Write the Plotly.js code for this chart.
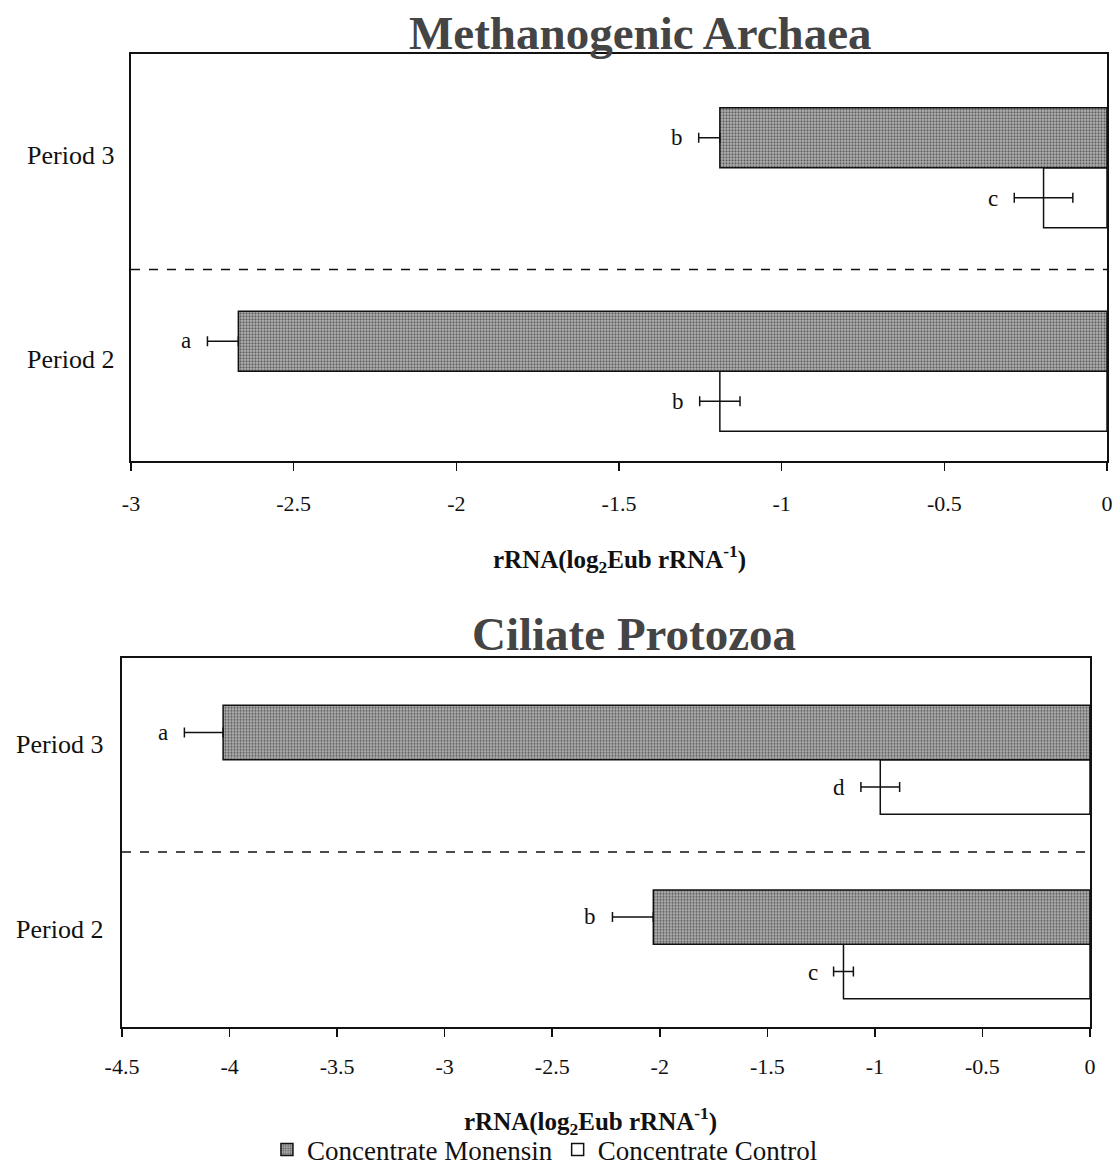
<!DOCTYPE html>
<html>
<head>
<meta charset="utf-8">
<script src="https://cdn.plot.ly/plotly-3.0.1.min.js"></script>
<style>html,body{margin:0;padding:0;background:#fff;}#chart{width:1119px;height:1175px;}</style>
</head>
<body>
<div id="chart"></div>
<script>
// ---- Data ----
const categories = ['Period 2', 'Period 3'];
const seriesNames = ['Concentrate Monensin', 'Concentrate Control'];

const archaeaMonensin = [-2.67, -1.19];
const archaeaMonensinErr = [0.095, 0.065];
const archaeaControl = [-1.19, -0.195];
const archaeaControlErr = [0.062, 0.09];
const archaeaMonensinLetters = ['a', 'b'];
const archaeaControlLetters = ['b', 'c'];

const ciliateMonensin = [-2.03, -4.03];
const ciliateMonensinErr = [0.19, 0.18];
const ciliateControl = [-1.146, -0.975];
const ciliateControlErr = [0.046, 0.09];
const ciliateMonensinLetters = ['b', 'a'];
const ciliateControlLetters = ['c', 'd'];

const topTickVals = [-3, -2.5, -2, -1.5, -1, -0.5, 0];
const bottomTickVals = [-4.5, -4, -3.5, -3, -2.5, -2, -1.5, -1, -0.5, 0];
const axisTitleText = 'rRNA(log<sub>2</sub>Eub rRNA<sup>-1</sup>)';

// ---- Styling ----
const serif = 'Liberation Serif';
const monensinMarker = {
  color: '#9a9a9a',
  pattern: {shape: '.', fgcolor: '#555', bgcolor: '#b0b0b0', size: 3, solidity: 0.4},
  line: {color: '#111', width: 1.5}
};
const controlMarker = {color: '#ffffff', line: {color: '#111', width: 1.5}};

function monTrace(x, err, xa, ya, show) {
  return {
    type: 'bar', orientation: 'h', name: seriesNames[0], y: categories, x: x,
    xaxis: xa, yaxis: ya, marker: monensinMarker, showlegend: show, legendrank: 1,
    error_x: {type: 'data', symmetric: false, array: err.map(() => 0), arrayminus: err,
              color: '#111', thickness: 1.5, width: 5}
  };
}
function ctlTrace(x, err, xa, ya, show) {
  return {
    type: 'bar', orientation: 'h', name: seriesNames[1], y: categories, x: x,
    xaxis: xa, yaxis: ya, marker: controlMarker, showlegend: show, legendrank: 2,
    error_x: {type: 'data', symmetric: true, array: err, color: '#111', thickness: 1.5, width: 5}
  };
}

const traces = [
  ctlTrace(archaeaControl, archaeaControlErr, 'x', 'y', true),
  monTrace(archaeaMonensin, archaeaMonensinErr, 'x', 'y', true),
  ctlTrace(ciliateControl, ciliateControlErr, 'x2', 'y2', false),
  monTrace(ciliateMonensin, ciliateMonensinErr, 'x2', 'y2', false)
];

// letter annotations, placed left of the error bar end
const barOffset = 0.15;
const annotations = [];
function addLetters(vals, errs, letters, xa, ya, off) {
  vals.forEach((v, i) => {
    annotations.push({
      xref: xa, yref: ya, x: v - errs[i], y: i + off, text: letters[i],
      showarrow: false, xanchor: 'right', xshift: -14,
      font: {family: serif, size: 23, color: '#111'}
    });
  });
}
addLetters(archaeaMonensin, archaeaMonensinErr, archaeaMonensinLetters, 'x', 'y', barOffset);
addLetters(archaeaControl, archaeaControlErr, archaeaControlLetters, 'x', 'y', -barOffset);
addLetters(ciliateMonensin, ciliateMonensinErr, ciliateMonensinLetters, 'x2', 'y2', barOffset);
addLetters(ciliateControl, ciliateControlErr, ciliateControlLetters, 'x2', 'y2', -barOffset);

// category labels (period names), slightly above the category centre as in the original
const catFont = {family: serif, size: 26, color: '#111'};
function addCatLabels(xa, ya, xshift, yshift) {
  categories.forEach((c, i) => {
    annotations.push({
      xref: xa + ' domain', yref: ya, x: 0, y: i, text: c, showarrow: false,
      xanchor: 'right', yanchor: 'middle', xshift: xshift, yshift: yshift, font: catFont
    });
  });
}
addCatLabels('x', 'y', -15, 12);
addCatLabels('x2', 'y2', -17, 15);

const titleFont = {family: serif, size: 47, color: '#444', weight: 700};
annotations.push({xref: 'paper', yref: 'paper', x: 0.572, y: 1 - 33 / 1175, text: 'Methanogenic Archaea',
  showarrow: false, xanchor: 'center', yanchor: 'middle', font: titleFont});
annotations.push({xref: 'paper', yref: 'paper', x: 0.567, y: 1 - 636 / 1175, text: 'Ciliate Protozoa',
  showarrow: false, xanchor: 'center', yanchor: 'middle', font: titleFont});
const axTitleFont = {family: serif, size: 25, color: '#111', weight: 700};
annotations.push({xref: 'paper', yref: 'paper', x: 0.554, y: 1 - 560 / 1175, text: axisTitleText,
  showarrow: false, xanchor: 'center', yanchor: 'middle', font: axTitleFont});
annotations.push({xref: 'paper', yref: 'paper', x: 0.528, y: 1 - 1124 / 1175, text: axisTitleText,
  showarrow: false, xanchor: 'center', yanchor: 'middle', font: axTitleFont});

const tickFont = {family: serif, size: 22, color: '#111'};
function xAxis(domain, range, tickvals, anchor, standoff) {
  return {
    domain: domain, range: range, tickvals: tickvals, ticktext: tickvals.map(String), anchor: anchor,
    showline: true, mirror: true, linecolor: '#111', linewidth: 2,
    ticks: 'outside', ticklen: 8, tickwidth: 1.5, tickcolor: '#111',
    showgrid: false, zeroline: false, tickfont: tickFont, ticklabelstandoff: standoff, fixedrange: true
  };
}
function yAxis(domain, range, anchor) {
  return {
    domain: domain, type: 'category', categoryarray: categories, categoryorder: 'array',
    range: range, anchor: anchor, showticklabels: false,
    showline: true, mirror: true, linecolor: '#111', linewidth: 2,
    ticks: '', showgrid: false, zeroline: false, fixedrange: true
  };
}

const layout = {
  width: 1119, height: 1175,
  margin: {l: 0, r: 0, t: 0, b: 0},
  paper_bgcolor: '#ffffff', plot_bgcolor: '#ffffff',
  barmode: 'group', bargap: 0.41, bargroupgap: 0,
  showlegend: true,
  legend: {orientation: 'h', x: 0.487, xanchor: 'center', y: 1 - 1153 / 1175, yanchor: 'middle',
           font: {family: serif, size: 27, color: '#111'}, itemwidth: 30, tracegroupgap: 0,
           bgcolor: 'rgba(0,0,0,0)'},
  xaxis: xAxis([131 / 1119, 1107 / 1119], [-3, 0], topTickVals, 'y', 14),
  yaxis: yAxis([1 - 462 / 1175, 1 - 54 / 1175], [-0.44, 1.56], 'x'),
  xaxis2: xAxis([122 / 1119, 1090 / 1119], [-4.5, 0], bottomTickVals, 'y2', 10),
  yaxis2: yAxis([1 - 1030 / 1175, 1 - 660 / 1175], [-0.45, 1.55], 'x2'),
  shapes: [
    {type: 'line', xref: 'x domain', yref: 'y', x0: 0, x1: 1, y0: 0.5, y1: 0.5,
     line: {color: '#111', width: 1.5, dash: 'dash'}},
    {type: 'line', xref: 'x2 domain', yref: 'y2', x0: 0, x1: 1, y0: 0.5, y1: 0.5,
     line: {color: '#111', width: 1.5, dash: 'dash'}}
  ],
  annotations: annotations
};

Plotly.newPlot('chart', traces, layout, {displayModeBar: false, staticPlot: true});
</script>
</body>
</html>
